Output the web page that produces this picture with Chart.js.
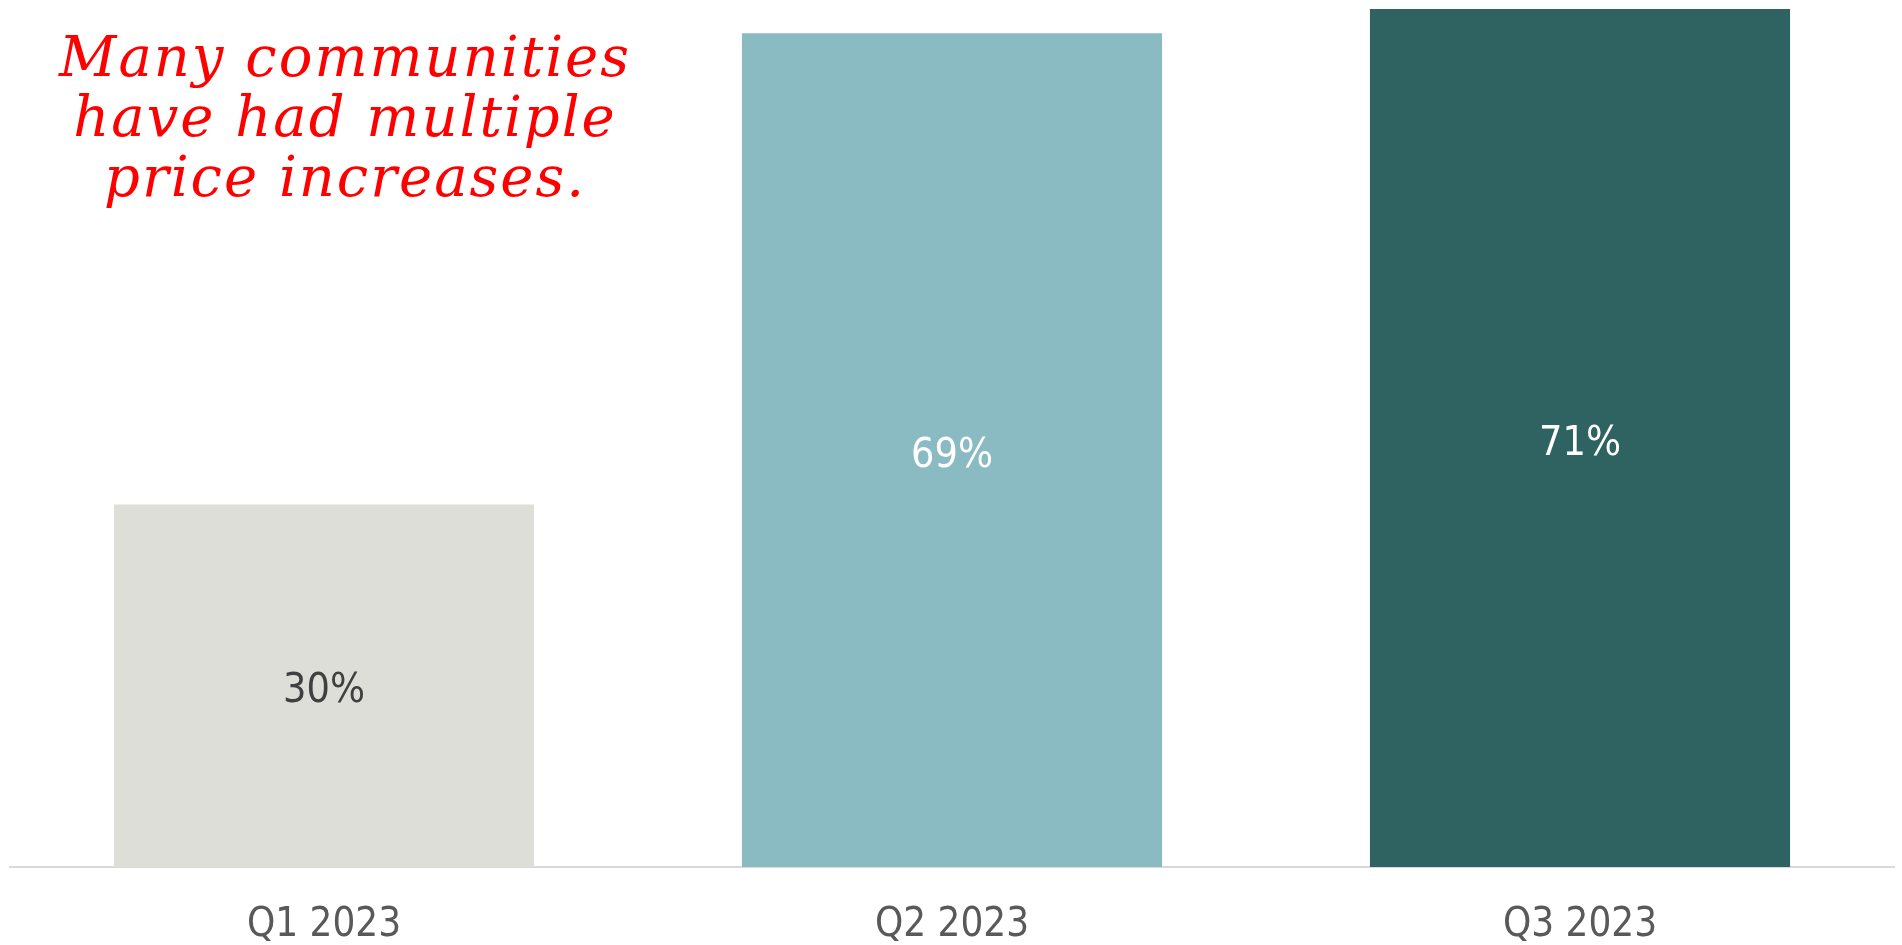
<!DOCTYPE html>
<html>
<head>
<meta charset="utf-8">
<style>
  html, body { margin: 0; padding: 0; background: #fff; }
  #wrap { width: 1902px; height: 945px; }
</style>
<script src="https://cdn.jsdelivr.net/npm/chart.js@4/dist/chart.umd.min.js"></script>
</head>
<body>
<div id="wrap"><canvas id="myChart"></canvas></div>
<script>
const quarters = ['Q1 2023', 'Q2 2023', 'Q3 2023'];
const shares = [30, 69, 71];
const barColors = ['#DEDED9', '#8ABAC2', '#2F6361'];
const labelColors = ['#404040', '#FFFFFF', '#FFFFFF'];
const noteLines = ['Many communities', 'have had multiple', 'price increases.'];

const FONT = '"DejaVu Sans Condensed", "DejaVu Sans", sans-serif';

// value labels in the middle of each bar
const barValues = {
  id: 'barValues',
  afterDatasetsDraw(chart) {
    const ctx = chart.ctx;
    const meta = chart.getDatasetMeta(0);
    ctx.save();
    ctx.font = '41px ' + FONT;
    ctx.textAlign = 'center';
    ctx.textBaseline = 'middle';
    meta.data.forEach((bar, i) => {
      const p = bar.getProps(['x', 'y', 'base'], true);
      ctx.fillStyle = labelColors[i];
      ctx.fillText(shares[i] + '%', p.x, (p.y + p.base) / 2 + 6);
    });
    ctx.restore();
  }
};

// red handwritten note, top left
const note = {
  id: 'note',
  afterDraw(chart) {
    const ctx = chart.ctx;
    ctx.save();
    ctx.font = 'italic 56px "DejaVu Serif", "Liberation Serif", serif';
    ctx.fillStyle = '#FF0000';
    ctx.textAlign = 'center';
    ctx.textBaseline = 'alphabetic';
    ctx.letterSpacing = '2px';
    noteLines.forEach((t, i) => {
      ctx.fillText(t, 345, 76 + i * 60);
    });
    ctx.restore();
  }
};

new Chart(document.getElementById('myChart').getContext('2d'), {
  type: 'bar',
  data: {
    labels: quarters,
    datasets: [{
      data: shares,
      backgroundColor: barColors,
      borderWidth: 0,
      categoryPercentage: 1,
      barPercentage: 0.669
    }]
  },
  options: {
    responsive: true,
    maintainAspectRatio: false,
    animation: false,
    layout: { padding: { left: 10, right: 8, top: 3, bottom: 0 } },
    plugins: {
      legend: { display: false },
      tooltip: { enabled: false }
    },
    scales: {
      x: {
        grid: { display: false },
        border: { display: true, color: '#D9D9D9', width: 2 },
        ticks: {
          color: '#595959',
          padding: 27,
          font: { family: FONT, size: 40 }
        },
        afterFit(scale) { scale.height = 78; }
      },
      y: {
        display: false,
        min: 0,
        max: 71.5
      }
    }
  },
  plugins: [barValues, note]
});
</script>
</body>
</html>
